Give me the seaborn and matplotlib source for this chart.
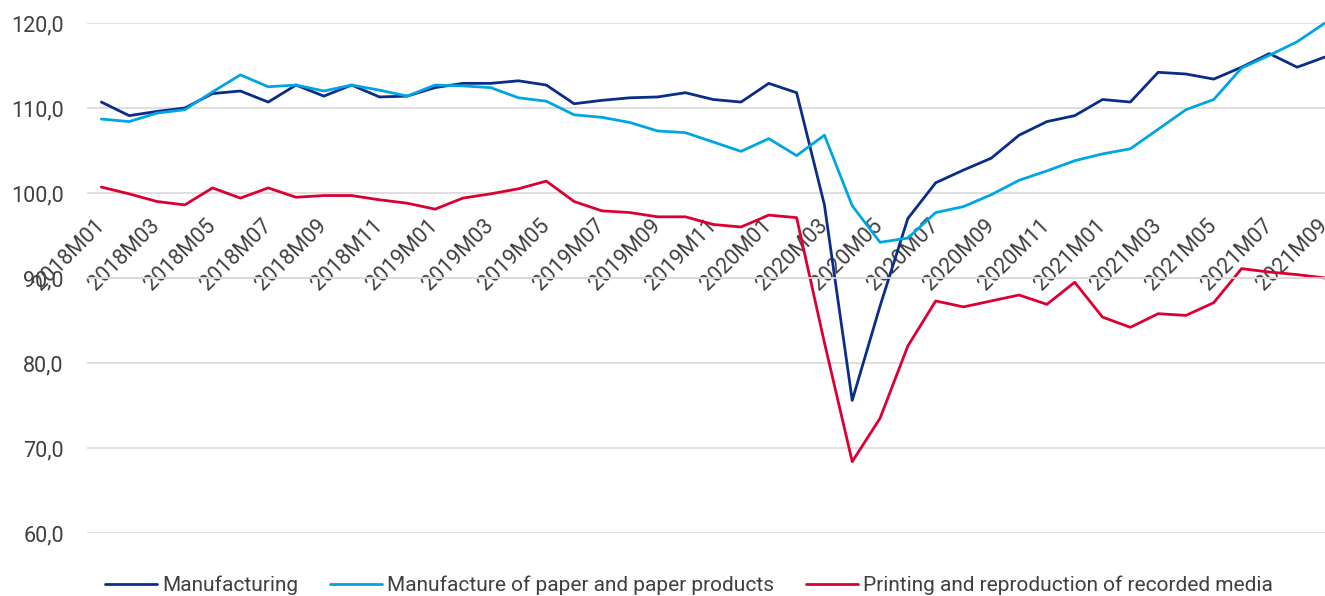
import numpy as np
import pandas as pd
import seaborn as sns
import matplotlib.pyplot as plt

# months 2018M01 .. 2021M09
months = [f"{y}M{m:02d}" for y in range(2018, 2022) for m in range(1, 13)][:45]

manufacturing = [110.7, 109.1, 109.6, 110.0, 111.7, 112.0, 110.7, 112.7, 111.4, 112.7, 111.3, 111.4, 112.4,
                 112.9, 112.9, 113.2, 112.7, 110.5, 110.9, 111.2, 111.3, 111.8, 111.0, 110.7, 112.9, 111.8,
                 98.6, 75.6, 86.7, 97.0, 101.2, 102.7, 104.1, 106.8, 108.4, 109.1, 111.0, 110.7, 114.2,
                 114.0, 113.4, 114.8, 116.4, 114.8, 116.0]
paper = [108.7, 108.4, 109.4, 109.8, 111.9, 113.9, 112.5, 112.7, 112.0, 112.7, 112.1, 111.4, 112.7,
         112.6, 112.4, 111.2, 110.8, 109.2, 108.9, 108.3, 107.3, 107.1, 106.0, 104.9, 106.4, 104.4,
         106.8, 98.5, 94.2, 94.7, 97.7, 98.4, 99.8, 101.5, 102.6, 103.8, 104.6, 105.2, 107.5,
         109.8, 111.0, 114.7, 116.2, 117.8, 120.0]
printing = [100.7, 99.9, 99.0, 98.6, 100.6, 99.4, 100.6, 99.5, 99.7, 99.7, 99.2, 98.8, 98.1,
            99.4, 99.9, 100.5, 101.4, 99.0, 97.9, 97.7, 97.2, 97.2, 96.3, 96.0, 97.4, 97.1,
            82.4, 68.4, 73.5, 82.0, 87.3, 86.6, 87.3, 88.0, 86.9, 89.5, 85.4, 84.2, 85.8,
            85.6, 87.1, 91.1, 90.7, 90.4, 90.0]

series_names = ["Manufacturing", "Manufacture of paper and paper products",
                "Printing and reproduction of recorded media"]
colors = ["#0B2D8A", "#00A5E3", "#DC0032"]

df = pd.DataFrame({
    "idx": list(range(len(months))) * 3,
    "value": manufacturing + paper + printing,
    "series": [s for s in series_names for _ in months],
})

sns.set_style("white")
plt.rcParams["font.family"] = ["Roboto", "DejaVu Sans"]
text_col = "#404040"

fig = plt.figure(figsize=(13.25, 5.96), dpi=100)
ax = fig.add_axes([0.066, 0.1057, 0.934, 0.8557])

sns.lineplot(data=df, x="idx", y="value", hue="series", palette=colors,
             linewidth=2.0, ax=ax, legend=True)
for ln in ax.lines:
    ln.set_clip_on(False)

ax.set_ylim(60, 120)
ax.set_xlim(-0.5, 44)
yticks = [60, 70, 80, 90, 100, 110, 120]
ax.set_yticks(yticks)
ax.set_yticklabels([f"{v:.1f}".replace(".", ",") for v in yticks])
ax.grid(axis="y", color="#d9d9d9", linewidth=1.2)
ax.set_axisbelow(True)

for s in ["top", "right", "left"]:
    ax.spines[s].set_visible(False)
ax.spines["bottom"].set_position(("data", 90))
ax.spines["bottom"].set_color("#d9d9d9")
ax.spines["bottom"].set_linewidth(1.2)

ax.set_xticks(range(0, len(months), 2))
ax.set_xticklabels(months[::2])
ax.tick_params(axis="x", length=0, pad=-40, labelsize=15.5, labelcolor=text_col)
ax.tick_params(axis="y", length=0, pad=17, labelsize=15.5, labelcolor=text_col)
for lab in ax.get_xticklabels():
    lab.set_rotation(45)
    lab.set_ha("right")
    lab.set_va("center")
    lab.set_rotation_mode("anchor")

ax.set_xlabel("")
ax.set_ylabel("")

handles, labels = ax.get_legend_handles_labels()
ax.get_legend().remove()
leg = fig.legend(handles, labels, loc="lower center", bbox_to_anchor=(0.52, -0.03), ncol=3,
                 frameon=False, fontsize=15, handlelength=2.5, handletextpad=0.25,
                 columnspacing=1.5)
for t in leg.get_texts():
    t.set_color(text_col)

plt.savefig("out.png", dpi=100)
